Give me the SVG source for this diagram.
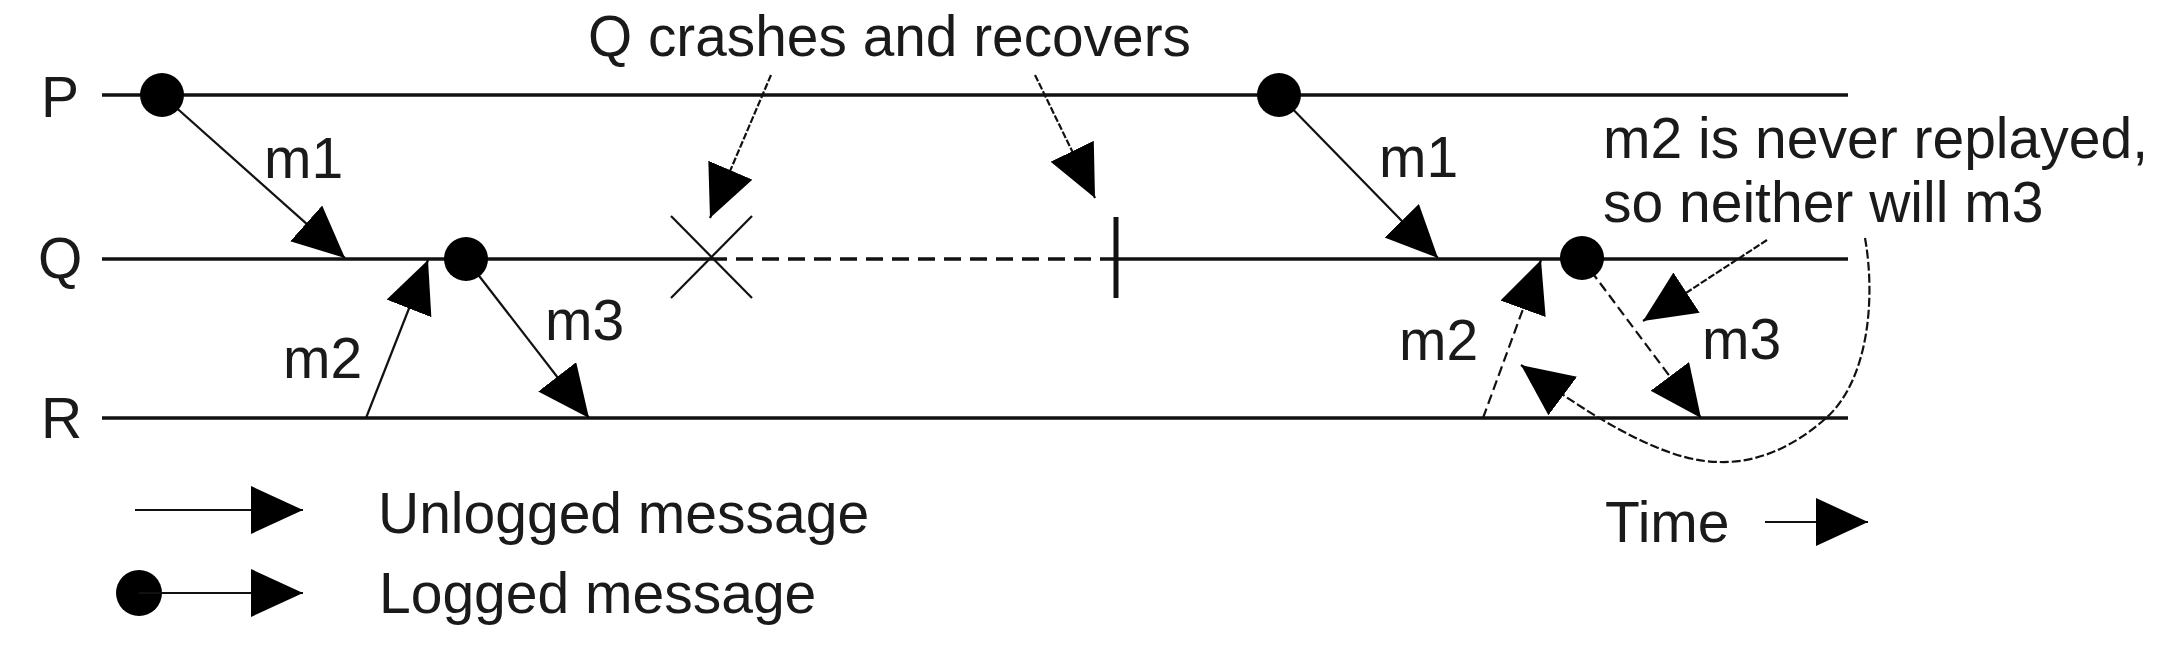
<svg xmlns="http://www.w3.org/2000/svg" width="2168" height="650" viewBox="0 0 2168 650">
<style>
  .txt { font-family: "Liberation Sans", Arial, sans-serif; font-size: 57px; fill: #1a1a1a; }
  .life { stroke: #111; stroke-width: 3.5; fill: none; }
  .msg { stroke: #111; stroke-width: 2.2; fill: none; }
  .dash { stroke-dasharray: 10 5; }
  .lead { stroke-dasharray: 7 2; }
  .curve { stroke-dasharray: 9 3; }
  .dot { fill: #000; }
</style>
<defs>
  <marker id="ah" markerUnits="userSpaceOnUse" markerWidth="54" markerHeight="50" refX="52" refY="24" orient="auto" viewBox="0 0 54 50">
    <path d="M0,0 L52,24 L0,48 z" fill="#000"/>
  </marker>
</defs>
<rect width="2168" height="650" fill="#fff"/>

<g id="process-P">
  <line class="life" x1="102" y1="95" x2="1848" y2="95"/>
  <text class="txt" x="41" y="117">P</text>
</g>
<g id="process-Q">
  <line class="life" x1="102" y1="259" x2="710" y2="259"/>
  <line class="life" x1="1116" y1="259" x2="1848" y2="259"/>
  <text class="txt" x="38" y="278">Q</text>
</g>
<g id="process-R">
  <line class="life" x1="102" y1="418" x2="1848" y2="418"/>
  <text class="txt" x="41" y="438">R</text>
</g>

<g id="crash">
  <line x1="671" y1="216" x2="752" y2="298" stroke="#111" stroke-width="2.2"/>
  <line x1="752" y1="216" x2="671" y2="298" stroke="#111" stroke-width="2.2"/>
  <line x1="710" y1="259" x2="1116" y2="259" stroke="#111" stroke-width="3.5" stroke-dasharray="17 9"/>
  <line x1="1116" y1="217" x2="1116" y2="298" stroke="#111" stroke-width="5"/>
</g>

<g id="connectors">
  <line class="msg" x1="162" y1="95" x2="345" y2="258" marker-end="url(#ah)"/>
  <line class="msg" x1="366" y1="418" x2="428" y2="260" marker-end="url(#ah)"/>
  <line class="msg" x1="466" y1="259" x2="589" y2="418" marker-end="url(#ah)"/>
  <line class="msg" x1="1279" y1="95" x2="1438" y2="258" marker-end="url(#ah)"/>
  <line class="msg dash" x1="1483" y1="418" x2="1541" y2="260" marker-end="url(#ah)"/>
  <line class="msg dash" x1="1582" y1="259" x2="1701" y2="418" marker-end="url(#ah)"/>
  <line class="msg lead" x1="771" y1="75" x2="710" y2="218" marker-end="url(#ah)"/>
  <line class="msg lead" x1="1035" y1="75" x2="1095" y2="198" marker-end="url(#ah)"/>
  <line class="msg lead" x1="1767" y1="240" x2="1643" y2="321" marker-end="url(#ah)"/>
  <path class="msg curve" d="M1865,238 C1876,300 1868,382 1825,419 C1792,448 1756,463 1720,462 C1680,462 1622,440 1521,365" marker-end="url(#ah)"/>
</g>

<g id="dots">
  <circle class="dot" cx="162" cy="95" r="22"/>
  <circle class="dot" cx="1279" cy="95" r="22"/>
  <circle class="dot" cx="466" cy="259" r="22"/>
  <circle class="dot" cx="1582" cy="258" r="22"/>
</g>

<g id="labels">
  <text class="txt" x="588" y="56" textLength="603" lengthAdjust="spacingAndGlyphs">Q crashes and recovers</text>
  <text class="txt" x="264" y="178">m1</text>
  <text class="txt" x="283" y="378">m2</text>
  <text class="txt" x="545" y="340">m3</text>
  <text class="txt" x="1379" y="177">m1</text>
  <text class="txt" x="1399" y="360">m2</text>
  <text class="txt" x="1702" y="359">m3</text>
  <text class="txt" x="1603" y="158" textLength="545" lengthAdjust="spacingAndGlyphs">m2 is never replayed,</text>
  <text class="txt" x="1603" y="222">so neither will m3</text>
</g>

<g id="legend-unlogged">
  <line class="msg" x1="135" y1="510" x2="303" y2="510" marker-end="url(#ah)"/>
  <text class="txt" x="378" y="533">Unlogged message</text>
</g>
<g id="legend-logged">
  <circle class="dot" cx="139" cy="593" r="23"/>
  <line class="msg" x1="139" y1="593" x2="303" y2="593" marker-end="url(#ah)"/>
  <text class="txt" x="379" y="613">Logged message</text>
</g>
<g id="legend-time">
  <text class="txt" x="1605" y="542">Time</text>
  <line class="msg" x1="1765" y1="522" x2="1868" y2="522" marker-end="url(#ah)"/>
</g>
</svg>
